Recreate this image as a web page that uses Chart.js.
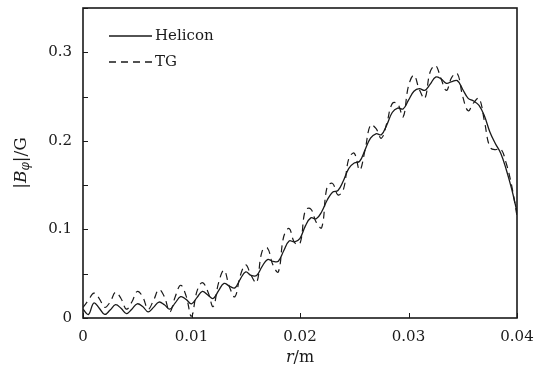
<!DOCTYPE html>
<html>
<head>
<meta charset="utf-8">
<script src="https://cdn.jsdelivr.net/npm/chart.js@4"></script>
<style>
  html, body { margin: 0; padding: 0; background: #fff; }
  #wrap { width: 540px; height: 374px; }
</style>
</head>
<body>
<div id="wrap"><canvas id="chart" width="540" height="374"></canvas></div>
<script>
/** Radius samples in metres (step 0.0005). */
const radius = [
  0, 0.0005, 0.001, 0.0015, 0.002, 0.0025, 0.003, 0.0035, 0.004, 0.0045,
  0.005, 0.0055, 0.006, 0.0065, 0.007, 0.0075, 0.008, 0.0085, 0.009, 0.0095,
  0.010, 0.0105, 0.011, 0.0115, 0.012, 0.0125, 0.013, 0.0135, 0.014, 0.0145,
  0.015, 0.0155, 0.016, 0.0165, 0.017, 0.0175, 0.018, 0.0185, 0.019, 0.0195,
  0.020, 0.0205, 0.021, 0.0215, 0.022, 0.0225, 0.023, 0.0235, 0.024, 0.0245,
  0.025, 0.0255, 0.026, 0.0265, 0.027, 0.0275, 0.028, 0.0285, 0.029, 0.0295,
  0.030, 0.0305, 0.031, 0.0315, 0.032, 0.0325, 0.033, 0.0335, 0.034, 0.0345,
  0.035, 0.0355, 0.036, 0.0365, 0.037, 0.0375, 0.038, 0.0385, 0.039, 0.0395,
  0.040
];

/** |B_phi| in gauss, Helicon code (solid). */
const helicon = [
  0.010, 0.004, 0.017, 0.011, 0.004, 0.009, 0.015, 0.011, 0.005, 0.010,
  0.016, 0.013, 0.007, 0.012, 0.018, 0.015, 0.010, 0.017, 0.024, 0.021,
  0.016, 0.023, 0.030, 0.026, 0.022, 0.031, 0.039, 0.036, 0.034, 0.044,
  0.052, 0.048, 0.048, 0.058, 0.066, 0.064, 0.064, 0.076, 0.087, 0.086,
  0.090, 0.104, 0.113, 0.112, 0.120, 0.133, 0.142, 0.144, 0.155, 0.169,
  0.175, 0.177, 0.190, 0.203, 0.208, 0.207, 0.218, 0.232, 0.237, 0.236,
  0.246, 0.256, 0.259, 0.257, 0.264, 0.272, 0.270, 0.265, 0.267, 0.268,
  0.258, 0.248, 0.245, 0.240, 0.228, 0.210, 0.197, 0.186, 0.168, 0.146,
  0.120
];

/** |B_phi| in gauss, TG code (dashed). */
const tg = [
  0.012, 0.020, 0.028, 0.022, 0.012, 0.018, 0.029, 0.022, 0.010, 0.018,
  0.030, 0.024, 0.010, 0.020, 0.032, 0.024, 0.007, 0.024, 0.037, 0.025,
  0.002, 0.030, 0.040, 0.030, 0.013, 0.040, 0.054, 0.035, 0.024, 0.048,
  0.060, 0.048, 0.040, 0.075, 0.079, 0.060, 0.052, 0.092, 0.101, 0.085,
  0.084, 0.122, 0.123, 0.108, 0.102, 0.148, 0.152, 0.139, 0.145, 0.180,
  0.186, 0.167, 0.190, 0.218, 0.214, 0.203, 0.220, 0.242, 0.242, 0.227,
  0.262, 0.274, 0.258, 0.248, 0.278, 0.285, 0.270, 0.257, 0.272, 0.276,
  0.250, 0.234, 0.243, 0.248, 0.222, 0.193, 0.190, 0.191, 0.175, 0.150,
  0.115
];

/** Series names. */
const seriesNames = ['Helicon', 'TG'];

/** Axis ranges. */
const xRange = [0, 0.04];
const yRange = [0, 0.35];

const SERIF = '"DejaVu Serif", "Liberation Serif", serif';
const INK = '#1a1a1a';

/** Draw a run of text pieces with their own fonts, centred at (x, y). */
const drawParts = (ctx, parts, x, y) => {
  let total = 0;
  parts.forEach((p) => {
    ctx.font = p.font;
    total += ctx.measureText(p.text).width;
  });
  let cx = x - total / 2;
  parts.forEach((p) => {
    ctx.font = p.font;
    ctx.fillText(p.text, cx, y + (p.dy || 0));
    cx += ctx.measureText(p.text).width;
  });
};

/** Frame, inward ticks, axis titles and legend. */
const decorations = {
  id: 'decorations',
  afterDraw(chart) {
    const { ctx, chartArea: a, scales } = chart;
    ctx.save();
    ctx.strokeStyle = INK;
    ctx.fillStyle = INK;

    /** Inward ticks. */
    ctx.lineWidth = 1;
    ctx.beginPath();
    scales.x.ticks.forEach((t) => {
      const px = Math.round(scales.x.getPixelForValue(t.value)) + 0.5;
      ctx.moveTo(px, a.bottom);
      ctx.lineTo(px, a.bottom - 5);
    });
    scales.y.ticks.forEach((t) => {
      const py = Math.round(scales.y.getPixelForValue(t.value)) + 0.5;
      ctx.moveTo(a.left, py);
      ctx.lineTo(a.left + 5, py);
    });
    ctx.stroke();

    /** Frame. */
    ctx.lineWidth = 1.6;
    ctx.strokeRect(a.left, a.top, a.right - a.left, a.bottom - a.top);

    /** X title: r/m. */
    ctx.textBaseline = 'middle';
    drawParts(ctx, [
      { text: 'r', font: 'italic 16px ' + SERIF },
      { text: '/m', font: '16px ' + SERIF },
    ], (a.left + a.right) / 2, 358);

    /** Y title: |B_phi|/G. */
    ctx.save();
    ctx.translate(22, (a.top + a.bottom) / 2);
    ctx.rotate(-Math.PI / 2);
    drawParts(ctx, [
      { text: '|', font: '17px ' + SERIF },
      { text: 'B', font: 'italic 17px ' + SERIF },
      { text: 'φ', font: 'italic 12px ' + SERIF, dy: 4 },
      { text: '|/G', font: '17px ' + SERIF },
    ], 0, 0);
    ctx.restore();

    /** Legend inside the plot. */
    const rows = [
      { y: 36, dash: [] },
      { y: 62, dash: [7, 5] },
    ];
    rows.forEach((row, i) => {
      ctx.beginPath();
      ctx.setLineDash(row.dash);
      ctx.lineWidth = 1.3;
      ctx.moveTo(109, row.y);
      ctx.lineTo(152, row.y);
      ctx.stroke();
      ctx.setLineDash([]);
      ctx.font = '15px ' + SERIF;
      ctx.textAlign = 'left';
      ctx.fillText(seriesNames[i], 155, row.y);
    });
    ctx.restore();
  },
};

/** Declare config. */
const toPoints = (ys) => radius.map((r, i) => ({ x: r, y: ys[i] }));

const config = {
  type: 'line',
  data: {
    datasets: [
      {
        label: seriesNames[0],
        data: toPoints(helicon),
        borderColor: INK,
        borderWidth: 1.3,
        pointRadius: 0,
        tension: 0.4,
        fill: false,
      },
      {
        label: seriesNames[1],
        data: toPoints(tg),
        borderColor: INK,
        borderWidth: 1.2,
        borderDash: [7, 5],
        pointRadius: 0,
        tension: 0.4,
        fill: false,
      },
    ],
  },
  options: {
    responsive: false,
    animation: false,
    layout: { padding: { top: 8, right: 23, left: 0, bottom: 0 } },
    plugins: { legend: { display: false }, tooltip: { enabled: false } },
    scales: {
      x: {
        type: 'linear',
        min: xRange[0],
        max: xRange[1],
        afterFit: (s) => {
          s.height = 56;
          s.paddingLeft = 0;
          s.paddingRight = 0;
        },
        grid: { display: false, drawTicks: false },
        border: { display: false },
        ticks: {
          stepSize: 0.01,
          padding: 10,
          color: INK,
          font: { family: SERIF, size: 15 },
          callback: (v) => (v === 0 ? '0' : String(+v.toFixed(2))),
        },
      },
      y: {
        type: 'linear',
        min: yRange[0],
        max: yRange[1],
        afterFit: (s) => {
          s.width = 83;
          s.paddingTop = 0;
          s.paddingBottom = 0;
        },
        grid: { display: false, drawTicks: false },
        border: { display: false },
        ticks: {
          stepSize: 0.05,
          padding: 11,
          color: INK,
          font: { family: SERIF, size: 15 },
          callback: (v) => {
            const k = Math.round(v * 100);
            if (k % 10 !== 0 || k > 30) return '';
            return k === 0 ? '0' : String(k / 100);
          },
        },
      },
    },
  },
  plugins: [decorations],
};

/** Create the chart. */
const canvas = document.getElementById('chart').getContext('2d');
new Chart(canvas, config);
</script>
</body>
</html>
